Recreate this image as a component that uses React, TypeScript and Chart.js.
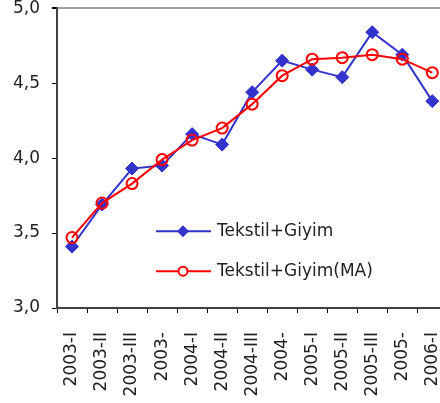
import { useEffect, useRef } from 'react';
import { Chart, registerables } from 'chart.js';

Chart.register(...registerables);

const categories = ['2003-I', '2003-II', '2003-III', '2003-', '2004-I', '2004-II', '2004-III', '2004-', '2005-I', '2005-II', '2005-III', '2005-', '2006-I'];
const tekstilGiyim = [3.41, 3.69, 3.93, 3.95, 4.16, 4.09, 4.44, 4.65, 4.59, 4.54, 4.84, 4.69, 4.38];
const tekstilGiyimMA = [3.47, 3.7, 3.83, 3.99, 4.12, 4.2, 4.36, 4.55, 4.66, 4.67, 4.69, 4.66, 4.57];
const seriesNames = ['Tekstil+Giyim', 'Tekstil+Giyim(MA)'];
const yMin = 3.0;
const yMax = 5.0;
const yStep = 0.5;

const FONT = 'DejaVu Sans';
const BLUE = '#3333cc';
const RED = '#ff0000';

const PLOT_TOP = 8;
const PLOT_HEIGHT = 300;
const PLOT_LEFT = 57;
const PLOT_WIDTH = 390;
const X_AXIS_HEIGHT = 100;
const CANVAS_WIDTH = 467;

const legendPlugin = {
  id: 'customLegend',
  afterDraw(chart: any) {
    const { ctx, chartArea } = chart;
    const items = [
      { name: seriesNames[0], color: BLUE, style: 'diamond', dy: 223 },
      { name: seriesNames[1], color: RED, style: 'circle', dy: 263 },
    ];
    ctx.save();
    items.forEach((it) => {
      const y = chartArea.top + it.dy;
      const x0 = chartArea.left + 99;
      const x1 = chartArea.left + 154;
      const mx = chartArea.left + 126;
      ctx.strokeStyle = it.color;
      ctx.lineWidth = 2;
      ctx.beginPath();
      ctx.moveTo(x0, y);
      ctx.lineTo(x1, y);
      ctx.stroke();
      if (it.style === 'diamond') {
        ctx.fillStyle = it.color;
        ctx.beginPath();
        ctx.moveTo(mx, y - 6);
        ctx.lineTo(mx + 6, y);
        ctx.lineTo(mx, y + 6);
        ctx.lineTo(mx - 6, y);
        ctx.closePath();
        ctx.fill();
      } else {
        ctx.fillStyle = '#ffffff';
        ctx.beginPath();
        ctx.arc(mx, y, 4.5, 0, Math.PI * 2);
        ctx.fill();
        ctx.stroke();
      }
      ctx.fillStyle = '#222222';
      ctx.font = `17px "${FONT}"`;
      ctx.textBaseline = 'middle';
      ctx.textAlign = 'left';
      ctx.fillText(it.name, chartArea.left + 160, y);
    });
    ctx.restore();
  },
};

export default function App() {
  const canvasRef = useRef<HTMLCanvasElement | null>(null);

  useEffect(() => {
    const canvas = canvasRef.current;
    if (!canvas) return;
    const chart = new Chart(canvas, {
      type: 'line',
      data: {
        labels: categories,
        datasets: [
          {
            label: seriesNames[0],
            data: tekstilGiyim,
            borderColor: BLUE,
            backgroundColor: BLUE,
            borderWidth: 2,
            pointStyle: 'rectRot',
            pointRadius: 6.5,
            pointBorderWidth: 1,
            tension: 0,
            order: 2,
          },
          {
            label: seriesNames[1],
            data: tekstilGiyimMA,
            borderColor: RED,
            backgroundColor: 'rgba(0,0,0,0)',
            borderWidth: 2,
            pointStyle: 'circle',
            pointRadius: 5.5,
            pointBorderWidth: 2,
            tension: 0,
            order: 1,
          },
        ],
      },
      options: {
        animation: false,
        responsive: false,
        maintainAspectRatio: false,
        devicePixelRatio: 1,
        layout: { padding: { top: 12, left: 0, right: 0, bottom: 0 } },
        plugins: {
          legend: { display: false },
          tooltip: { enabled: false },
        },
        scales: {
          x: {
            offset: true,
            afterFit: (scale: any) => {
              scale.height = X_AXIS_HEIGHT;
            },
            border: { display: true, color: '#404040', width: 2 },
            grid: {
              offset: true,
              drawOnChartArea: false,
              drawTicks: true,
              tickLength: 5,
              tickColor: '#000000',
            },
            ticks: {
              autoSkip: false,
              minRotation: 90,
              maxRotation: 90,
              padding: 19,
              color: '#222222',
              font: { family: FONT, size: 17 },
            },
          },
          y: {
            min: yMin,
            max: yMax,
            afterFit: (scale: any) => {
              scale.width = PLOT_LEFT;
            },
            border: { display: true, color: '#404040', width: 2 },
            grid: {
              drawOnChartArea: true,
              color: (c: any) => (c.tick && c.tick.value === yMax ? '#a0a0a0' : 'rgba(0,0,0,0)'),
              lineWidth: (c: any) => (c.tick && c.tick.value === yMax ? 2 : 1),
              drawTicks: true,
              tickLength: 5,
              tickColor: '#000000',
            },
            ticks: {
              stepSize: yStep,
              padding: 12,
              color: '#222222',
              font: { family: FONT, size: 17 },
              callback: (v: any) => Number(v).toFixed(1).replace('.', ','),
            },
          },
        },
      },
      plugins: [legendPlugin],
    });
    for (let i = 0; i < 3; i++) {
      const ca = chart.chartArea;
      const rightSpace = chart.width - ca.right;
      const bottomSpace = chart.height - ca.bottom;
      const w = Math.round(ca.left + PLOT_WIDTH + rightSpace);
      const h = Math.round(ca.top + PLOT_HEIGHT + bottomSpace);
      if (w === chart.width && h === chart.height) break;
      chart.resize(w, h);
    }
    canvas.style.position = 'absolute';
    canvas.style.left = `${PLOT_LEFT - chart.chartArea.left}px`;
    canvas.style.top = `${PLOT_TOP - chart.chartArea.top}px`;
    return () => chart.destroy();
  }, []);

  return (
    <div style={{ position: 'absolute', left: 0, top: 0, width: 440, height: 403, overflow: 'hidden', background: '#fff' }}>
      <canvas ref={canvasRef} width={CANVAS_WIDTH} height={412} style={{ position: 'absolute', left: 0, top: -4 }} />
    </div>
  );
}
